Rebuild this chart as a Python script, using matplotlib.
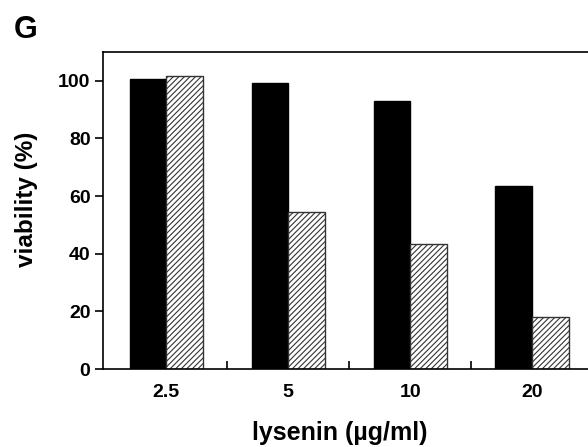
import numpy as np
import matplotlib.pyplot as plt

plt.rcParams['font.family'] = ['Liberation Sans', 'DejaVu Sans']
plt.rcParams['font.weight'] = 'bold'
plt.rcParams['hatch.linewidth'] = 0.8

concentrations = ['2.5', '5', '10', '20']
viability_solid = [100.5, 99.4, 93.0, 63.5]
viability_hatched = [101.5, 54.5, 43.3, 18.0]

x = np.arange(len(concentrations))
width = 0.3

fig = plt.figure(figsize=(5.88, 4.47), dpi=100)
ax = fig.add_axes([103 / 588, 78 / 447, 490 / 588, 317 / 447])

ax.bar(x - width / 2, viability_solid, width, color='black', edgecolor='black', linewidth=1)
ax.bar(x + width / 2, viability_hatched, width, color='white', edgecolor='#333333',
       hatch='//////', linewidth=1)

ax.set_xlim(-0.52, 3.5)
ax.set_ylim(0, 110)
ax.set_yticks([0, 20, 40, 60, 80, 100])
ax.set_xticks(x)
ax.set_xticklabels(concentrations)
ax.set_xticks(x[:-1] + 0.5, minor=True)
ax.tick_params(axis='x', which='major', length=0, pad=11, labelsize=14)
ax.tick_params(axis='x', which='minor', direction='in', length=6, width=1.2)
ax.tick_params(axis='y', direction='out', length=6, width=1.2, labelsize=14, pad=3)
for s in ax.spines.values():
    s.set_linewidth(1.2)

ax.set_ylabel('viability (%)', fontsize=17.5, fontweight='bold')
ax.set_xlabel('lysenin (µg/ml)', fontsize=18, fontweight='bold')
ax.yaxis.set_label_coords(-0.132, 0.535)
ax.xaxis.set_label_coords(0.484, -0.165)
fig.text(14 / 588, 1 - 30 / 447, 'G', fontsize=22, fontweight='bold', va='center')

fig.savefig('out.png', dpi=100)
